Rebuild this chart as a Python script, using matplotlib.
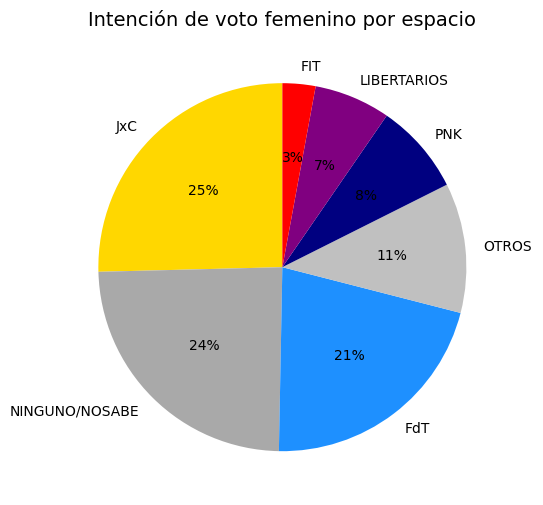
import matplotlib
matplotlib.use("Agg")
import matplotlib.pyplot as plt

# Datos del gráfico
espacios = ["JxC", "NINGUNO/NOSABE", "FdT", "OTROS", "PNK", "LIBERTARIOS", "FIT"]
porcentajes = [25.4, 24.3, 21.3, 11.4, 8.0, 6.7, 2.9]
colores = ["gold", "darkgray", "dodgerblue", "silver", "navy", "purple", "red"]

fig = plt.figure(figsize=(5.43, 5.06), dpi=100)
ax = fig.add_axes([0.1, 0.07, 0.84, 0.8])
ax.pie(porcentajes, labels=espacios, colors=colores, autopct="%1.0f%%", startangle=90)
fig.text(0.52, 0.96, "Intención de voto femenino por espacio", fontsize=14,
         ha="center", va="center")
ax.axis("equal")

fig.savefig("out.png", dpi=100)
